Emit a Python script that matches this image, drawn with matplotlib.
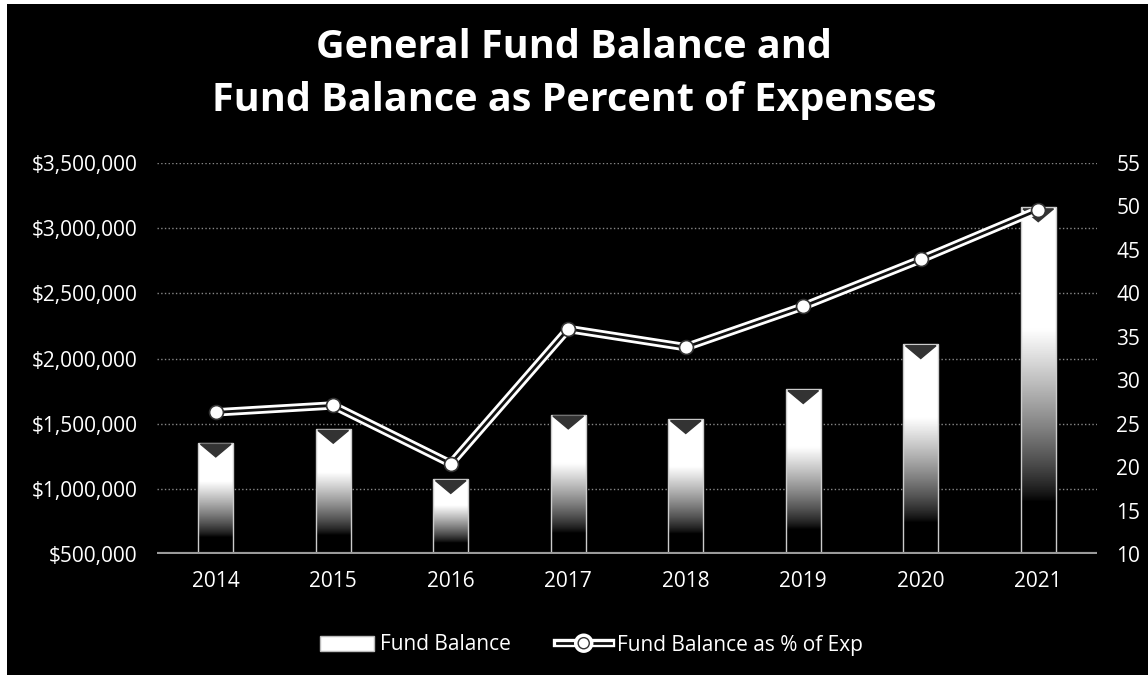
import numpy as np
import matplotlib.pyplot as plt
from matplotlib.patches import Rectangle, Patch
from matplotlib.lines import Line2D
import matplotlib.patheffects as pe
from matplotlib.ticker import FuncFormatter

plt.rcParams['font.family'] = ['Open Sans', 'DejaVu Sans']

# dados
anos = ['2014', '2015', '2016', '2017', '2018', '2019', '2020', '2021']
saldo = [1355000, 1460000, 1075000, 1570000, 1535000, 1765000, 2110000, 3160000]
pct_desp = [26.3, 27.1, 20.4, 35.9, 33.8, 38.5, 43.9, 49.6]

fig = plt.figure(figsize=(11.48, 6.75), dpi=100, facecolor='black')
# pequena margem branca em cima e à esquerda
fig.patches.append(Rectangle((0, 1 - 4 / 675), 1, 4 / 675,
                             transform=fig.transFigure, facecolor='white',
                             edgecolor='none', zorder=-10))
fig.patches.append(Rectangle((0, 0), 7 / 1148, 1,
                             transform=fig.transFigure, facecolor='white',
                             edgecolor='none', zorder=-10))

ax = fig.add_axes([157 / 1148, 1 - 554 / 675, 940 / 1148, 391 / 675])
ax.set_facecolor('black')
ax2 = ax.twinx()

x = np.arange(len(anos))
larg = 0.30
base = 500000

# barras com degradê (branco em cima, escurecendo para baixo)
t = np.linspace(0, 1, 256)
grad = np.clip((t - 0.15) / 0.5, 0, 1) ** 0.8
grad = grad.reshape(-1, 1)
barras = ax.bar(x, np.array(saldo) - base, bottom=base, width=larg,
                color='none', edgecolor='#cccccc', linewidth=1.0, zorder=2)
for b in barras:
    x0, y0 = b.get_x(), b.get_y()
    w, h = b.get_width(), b.get_height()
    im = ax.imshow(grad, extent=[x0, x0 + w, y0, y0 + h], origin='lower',
                   cmap='gray', vmin=0, vmax=1, aspect='auto', zorder=1)
    im.set_clip_path(b)
    # "funil" escuro no topo
    ax.fill([x0 + 0.02, x0 + w - 0.02, x0 + w / 2],
            [y0 + h - 12000, y0 + h - 12000, y0 + h - 110000],
            color='#333333', zorder=3)

ax.set_xlim(-0.5, len(anos) - 0.5)
ax.set_ylim(500000, 3500000)
ax.set_yticks(np.arange(500000, 3500001, 500000))
ax.yaxis.set_major_formatter(FuncFormatter(lambda v, p: f'${v:,.0f}'))
ax.set_xticks(x)
ax.set_xticklabels(anos)
ax.grid(axis='y', color='#888888', linestyle=':', linewidth=1.0, zorder=0)
ax.set_axisbelow(True)
ax.axhline(500000, color='#9a9a9a', linewidth=3, zorder=4)

# linha do percentual (linha dupla branca)
efeito = [pe.Stroke(linewidth=6, foreground='white'), pe.Normal()]
ax2.plot(x, pct_desp, color='#111111', linewidth=2, zorder=5,
         path_effects=efeito)
ax2.plot(x, pct_desp, linestyle='none', marker='o', markersize=10,
         markerfacecolor='white', markeredgecolor='#333333',
         markeredgewidth=1.2, zorder=6)
ax2.set_ylim(10, 55)
ax2.set_yticks(np.arange(10, 56, 5))

for a in (ax, ax2):
    for s in a.spines.values():
        s.set_visible(False)
    a.tick_params(length=0, colors='white', labelsize=15)
ax.tick_params(axis='x', pad=12)
ax.tick_params(axis='y', pad=14)
ax2.tick_params(axis='y', pad=14)

fig.text(0.5, 1 - 47 / 675, 'General Fund Balance and', ha='center',
         va='center', color='white', fontsize=28.5, fontweight='bold')
fig.text(0.5, 1 - 101 / 675, 'Fund Balance as Percent of Expenses',
         ha='center', va='center', color='white', fontsize=28.5,
         fontweight='bold')

handles = [Patch(facecolor='white', edgecolor='#bbbbbb'),
           Line2D([0], [0], color='#111111', linewidth=2, marker='o',
                  markersize=8, markerfacecolor='white',
                  markeredgecolor='#333333', path_effects=efeito)]
leg = fig.legend(handles, ['Fund Balance', 'Fund Balance as % of Exp'],
                 loc='center', bbox_to_anchor=(0.515, 1 - 645 / 675), ncol=2,
                 frameon=False, fontsize=15, handlelength=2.6,
                 columnspacing=2.2, handletextpad=0.3)
for t in leg.get_texts():
    t.set_color('white')

fig.savefig('out.png', dpi=100, facecolor=fig.get_facecolor())
